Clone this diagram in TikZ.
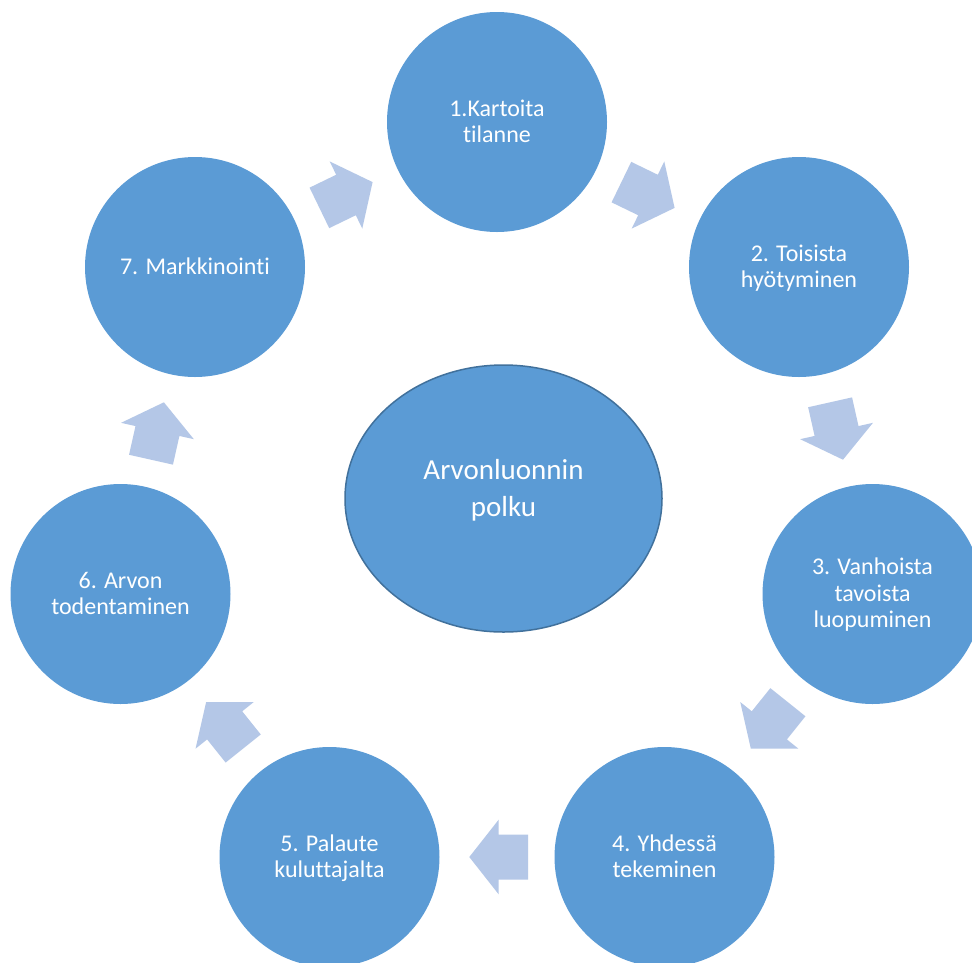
\documentclass[tikz,border=0pt]{standalone}
\usepackage{fontspec}
\setmainfont{Carlito}[Ligatures={NoCommon}]
\usetikzlibrary{calc,shapes.geometric}
\definecolor{cblue}{HTML}{5B9BD5}
\definecolor{ablue}{HTML}{B4C7E7}
\definecolor{eborder}{HTML}{41719C}
\newcommand\TopS{\rule{0pt}{20.5pt}}
\newcommand\BotS{\rule[-6pt]{0pt}{6pt}}
\newcommand\blockarr[2]{%
  \coordinate (#1m) at ($(#1)!0.5!(#2)$);
  \fill[blockarrow] ($(#1)!22.5pt!90:(#2)$) -- ($(#1m)!22.5pt!90:(#2)$) -- ($(#1m)!37.3pt!90:(#2)$) -- (#2) -- ($(#1m)!37.3pt!-90:(#2)$) -- ($(#1m)!22.5pt!-90:(#2)$) -- ($(#1)!22.5pt!-90:(#2)$) -- cycle;}
\begin{document}
\begin{tikzpicture}[x=1pt,y=-1pt,
  stepcircle/.style={circle, fill=cblue, minimum size=220pt, inner sep=0pt, text=white, align=center, font=\fontsize{24}{26.5}\selectfont},
  centreshape/.style={ellipse, fill=cblue, draw=eborder, line width=1.5pt, minimum width=317pt, minimum height=267pt, inner sep=0pt},
  centretext/.style={text=white, align=center, font=\fontsize{29}{37.4}\selectfont},
  blockarrow/.style={fill=ablue}]
\fill[white] (0,0) rectangle (972,962);
\useasboundingbox (0,0) rectangle (972,962);
\node[stepcircle] (c1) at (497,122) {\TopS 1.Kartoita\\tilanne\BotS};
\node[stepcircle] (c2) at (799,267) {\TopS 2. Toisista\\hyötyminen\BotS};
\node[stepcircle] (c3) at (872.5,594) {\TopS 3. Vanhoista\\tavoista\\luopuminen\BotS};
\node[stepcircle] (c4) at (664.5,857) {\TopS 4. Yhdessä\\tekeminen\BotS};
\node[stepcircle] (c5) at (329.5,857) {\TopS 5. Palaute\\kuluttajalta\BotS};
\node[stepcircle] (c6) at (120.5,594) {\TopS 6. Arvon\\todentaminen\BotS};
\node[stepcircle] (c7) at (195,267) {\TopS 7. Markkinointi\BotS};
\node[centreshape] (ctr) at (503.5,498.5) {};
\node[centretext] (ctrtext) at (503.5,488.7) {\rule{0pt}{28pt}Arvonluonnin\\polku\rule[-9.4pt]{0pt}{9.4pt}};
\coordinate (a12b) at (621.4,182.1); \coordinate (a12t) at (674.6,207.9);
\coordinate (a23b) at (830.1,402.3); \coordinate (a23t) at (843,459.7);
\coordinate (a34b) at (787.9,702.2); \coordinate (a34t) at (750.8,748.5);
\coordinate (a45b) at (528,857); \coordinate (a45t) at (469.3,857);
\coordinate (a56b) at (243.2,748.5); \coordinate (a56t) at (206.1,702.2);
\coordinate (a67b) at (151,459.7); \coordinate (a67t) at (163.9,402.3);
\coordinate (a71b) at (319.4,207.9); \coordinate (a71t) at (372.6,182.1);
\blockarr{a12b}{a12t}
\blockarr{a23b}{a23t}
\blockarr{a34b}{a34t}
\blockarr{a45b}{a45t}
\blockarr{a56b}{a56t}
\blockarr{a67b}{a67t}
\blockarr{a71b}{a71t}
\end{tikzpicture}
\end{document}
